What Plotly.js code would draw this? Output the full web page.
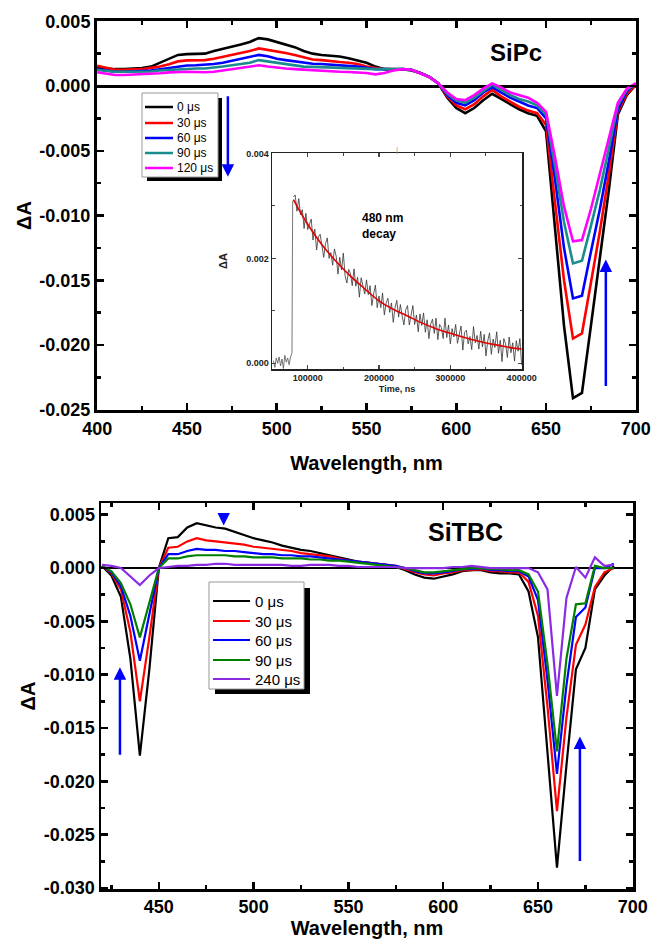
<!DOCTYPE html>
<html><head><meta charset="utf-8">
<script src="https://cdn.plot.ly/plotly-3.0.1.min.js"></script>
<style>html,body{margin:0;padding:0;background:#fff}#chart{width:652px;height:939px}</style>
</head><body><div id="chart"></div>
<script>
// ---------- Top panel: SiPc ----------
const wlTop = [400,405,410,415,420,425,430,435,440,445,450,455,460,465,470,475,480,485,490,495,500,505,510,515,520,525,530,535,540,545,550,555,560,565,570,575,580,585,590,595,600,605,610,615,620,625,630,635,640,645,650,655,660,665,670,675,680,685,690,695,700];
const sipc0 = [0.00145,0.00135,0.0013,0.0013,0.00132,0.00138,0.0015,0.00178,0.0021,0.0024,0.00246,0.00247,0.0025,0.0027,0.00285,0.003,0.0032,0.0034,0.0037,0.0036,0.0034,0.0032,0.003,0.0027,0.0025,0.0024,0.00235,0.00228,0.00215,0.002,0.0018,0.0015,0.0013,0.00128,0.0013,0.0012,0.001,0.0007,0.0002,-0.0009,-0.0017,-0.0021,-0.0017,-0.0011,-0.0006,-0.001,-0.0014,-0.0018,-0.0021,-0.0023,-0.0035,-0.0112,-0.0185,-0.0241,-0.0237,-0.0185,-0.0133,-0.008,-0.0022,-0.0007,0.0001];
const sipc30 = [0.00157,0.0014,0.00125,0.00125,0.00128,0.0013,0.0014,0.0015,0.00168,0.0019,0.00198,0.002,0.002,0.0021,0.00225,0.0024,0.0025,0.0027,0.0029,0.0028,0.0027,0.00255,0.0024,0.0022,0.00205,0.002,0.0019,0.00185,0.0018,0.0017,0.0015,0.0014,0.0013,0.0013,0.0013,0.00125,0.001,0.0007,0.0002,-0.0008,-0.0015,-0.0018,-0.0014,-0.0008,-0.0003,-0.0008,-0.0012,-0.0016,-0.0019,-0.0021,-0.003,-0.0088,-0.015,-0.0195,-0.0191,-0.0152,-0.0112,-0.0068,-0.002,-0.0006,0.0001];
const sipc60 = [0.0013,0.0012,0.0011,0.0011,0.00112,0.00115,0.0012,0.0013,0.0014,0.0015,0.00158,0.0016,0.00163,0.0017,0.0018,0.00195,0.0021,0.0022,0.0024,0.0023,0.0021,0.002,0.0019,0.0018,0.00172,0.0017,0.00165,0.0016,0.0016,0.0015,0.0014,0.0013,0.0013,0.0013,0.0013,0.00125,0.001,0.0007,0.0002,-0.0007,-0.0013,-0.0015,-0.0011,-0.0005,-0.0001,-0.0005,-0.0009,-0.0012,-0.0015,-0.0017,-0.0025,-0.0072,-0.0125,-0.0164,-0.0162,-0.0128,-0.0095,-0.0058,-0.0018,-0.0004,0.0002];
const sipc90 = [0.00124,0.00115,0.0011,0.0011,0.0011,0.0011,0.00112,0.0012,0.00125,0.0013,0.00135,0.00135,0.00135,0.0014,0.0015,0.0016,0.0017,0.0018,0.002,0.0019,0.0018,0.0017,0.0016,0.0015,0.00148,0.00145,0.0014,0.00138,0.00137,0.00135,0.0013,0.0013,0.0013,0.0013,0.00132,0.00125,0.001,0.0007,0.0002,-0.0006,-0.0011,-0.0013,-0.0009,-0.0004,0.0001,-0.0003,-0.0007,-0.001,-0.0012,-0.0015,-0.0022,-0.0062,-0.0105,-0.0137,-0.0135,-0.0108,-0.008,-0.0048,-0.0015,-0.0003,0.0002];
const sipc120 = [0.00106,0.00095,0.00085,0.00085,0.00088,0.0009,0.00092,0.00098,0.00105,0.0011,0.0011,0.00108,0.00106,0.0011,0.0012,0.0013,0.0014,0.0015,0.0016,0.0015,0.0014,0.00135,0.0013,0.00125,0.0012,0.0012,0.00115,0.0011,0.00108,0.00106,0.001,0.0009,0.001,0.0012,0.0013,0.00125,0.001,0.0007,0.0002,-0.0005,-0.001,-0.0011,-0.0007,-0.0002,0.0002,-0.0001,-0.0005,-0.0007,-0.0009,-0.0013,-0.002,-0.0055,-0.0093,-0.012,-0.0119,-0.0095,-0.0068,-0.0042,-0.0013,-0.0002,0.0002];
const topNames = ['0 \u03bcs','30 \u03bcs','60 \u03bcs','90 \u03bcs','120 \u03bcs'];
const topColors = ['#000000','#ff0000','#0000ff','#1a8c8c','#ff00ff'];
const topYTicks = [0.005,0,-0.005,-0.01,-0.015,-0.02,-0.025];
const topYLabels = ['0.005','0.000','-0.005','-0.010','-0.015','-0.020','-0.025'];

// ---------- Inset: 480 nm decay ----------
const tPre = [52000,54000,56000,58000,60000,62000,64000,66000,68000,70000,72000,74000,76000,78000,79000];
const aPre = [0.00005,-0.00008,0.0001,0.0,0.00012,-0.00005,0.00008,-0.0001,0.00015,0.00002,0.0001,-0.00003,0.00012,0.0002,0.0031];
// decay trace sampled every 2500 ns from 80000 ns
const aDecay = [0.00317,0.00321,0.0029,0.00314,0.00283,0.00293,0.00257,0.00286,
0.00255,0.00265,0.00275,0.00235,0.00256,0.00216,0.00241,0.00246,
0.00221,0.00202,0.00228,0.00239,0.002,0.00211,0.00187,0.00218,
0.00204,0.0017,0.00202,0.00178,0.0021,0.00166,0.00153,0.00179,
0.00171,0.00148,0.0018,0.00147,0.00164,0.00126,0.00163,0.00145,
0.00132,0.00159,0.00131,0.00148,0.0011,0.00132,0.00149,0.00106,
0.00128,0.00106,0.00134,0.00092,0.00115,0.00124,0.00097,0.00115,
0.00078,0.00106,0.0012,0.00088,0.00112,0.0009,0.00073,0.00102,
0.0011,0.00073,0.00092,0.0011,0.00074,0.00092,0.0006,0.00094,
0.00072,0.00096,0.00059,0.00083,0.00047,0.00075,0.00084,0.00057,
0.00086,0.00045,0.00074,0.00068,0.00047,0.00086,0.00049,0.00073,
0.00037,0.00066,0.0005,0.00074,0.00038,0.00057,0.00071,0.00025,
0.00059,0.00063,0.00037,0.00051,0.00026,0.0007,0.00039,0.00053,
0.00027,0.00061,0.00031,0.00055,0.00014,0.00043,0.00058,0.00017,
0.00046,0.0003,0.0006,0.00019,0.00044,0.00003,0.00047,0.00037,
0.00011,0.0005,0.0002,0.00039,0.00004,0.00043,0.00023,0.00047,-0.00003];
const tFit = [80000,100000,120000,140000,160000,180000,200000,220000,240000,260000,280000,300000,320000,340000,360000,380000,400000];
const aFit = [0.00312,0.00265,0.00226,0.00194,0.00166,0.00142,0.00119,0.00103,0.0009,0.00077,0.00066,0.00057,0.00049,0.00042,0.00036,0.00031,0.00027];

// ---------- Bottom panel: SiTBC ----------
const wlBot = [420,425,430,435,440,445,450,455,460,465,470,475,480,485,490,495,500,505,510,515,520,525,530,535,540,545,550,555,560,565,570,575,580,585,590,595,600,605,610,615,620,625,630,635,640,645,650,655,660,665,670,675,680,685,690];
const sitbc0 = [0.0002,-0.0007,-0.0027,-0.0085,-0.0176,-0.0095,0.0,0.0028,0.0029,0.0038,0.0042,0.004,0.0038,0.0037,0.0034,0.0031,0.0028,0.0026,0.0024,0.0021,0.0019,0.0017,0.0016,0.0014,0.0012,0.001,0.0008,0.0006,0.0005,0.0004,0.0003,0.0001,-0.0002,-0.0006,-0.0009,-0.001,-0.0008,-0.0006,-0.0003,-0.0002,-0.0002,-0.0004,-0.0005,-0.0005,-0.0006,-0.0022,-0.0065,-0.0173,-0.0281,-0.0185,-0.0095,-0.0075,-0.002,-0.0007,0.0002];
const sitbc30 = [0.0002,-0.0005,-0.002,-0.006,-0.0125,-0.0065,0.0,0.0019,0.002,0.0025,0.0028,0.0026,0.0025,0.0024,0.0023,0.0022,0.002,0.0019,0.0018,0.0017,0.0016,0.0014,0.0013,0.0012,0.0011,0.0009,0.0007,0.0006,0.0005,0.0004,0.0003,0.0002,-0.0001,-0.0004,-0.0006,-0.0007,-0.0005,-0.0004,-0.0002,-0.0002,-0.0001,-0.0003,-0.0003,-0.0004,-0.0004,-0.0013,-0.0045,-0.013,-0.0228,-0.014,-0.0072,-0.0053,-0.0018,-0.0004,0.0];
const sitbc60 = [0.0002,-0.0004,-0.0017,-0.0045,-0.0087,-0.0045,0.0,0.0013,0.0013,0.0016,0.0018,0.0017,0.0017,0.0016,0.0016,0.0015,0.0014,0.0013,0.0013,0.0012,0.0012,0.0011,0.0011,0.001,0.0009,0.0008,0.0007,0.0006,0.0005,0.0004,0.0003,0.0002,0.0,-0.0003,-0.0005,-0.0005,-0.0004,-0.0003,-0.0001,-0.0001,0.0,-0.0002,-0.0002,-0.0003,-0.0003,-0.0008,-0.003,-0.0105,-0.0193,-0.011,-0.0046,-0.0037,0.0,0.0,0.0004];
const sitbc90 = [0.0002,-0.0003,-0.0014,-0.0034,-0.0065,-0.0032,0.0,0.0009,0.0009,0.0011,0.0012,0.0012,0.0012,0.0012,0.0011,0.0011,0.001,0.001,0.001,0.0009,0.0009,0.0009,0.0008,0.0008,0.0007,0.0007,0.0006,0.0005,0.0004,0.0003,0.0002,0.0001,0.0,-0.0002,-0.0004,-0.0004,-0.0003,-0.0002,-0.0001,0.0,0.0,-0.0001,-0.0001,-0.0002,-0.0002,-0.0006,-0.0022,-0.009,-0.0172,-0.0085,-0.0034,-0.0033,0.0002,0.0,0.0];
const sitbc240 = [0.0003,0.0002,0.0,-0.0008,-0.0016,-0.0007,0.0,0.0001,0.0002,0.0002,0.0003,0.0003,0.0004,0.0004,0.0003,0.0003,0.0003,0.0003,0.0003,0.0003,0.0002,0.0002,0.0003,0.0003,0.0003,0.0002,0.0002,0.0001,0.0001,0.0001,0.0001,0.0001,0.0,0.0,0.0,0.0,0.0,0.0001,0.0001,0.0002,0.0001,0.0,0.0,0.0,0.0,0.0,-0.0004,-0.002,-0.012,-0.0028,0.0001,-0.0009,0.001,0.0002,0.0003];
const botNames = ['0 \u03bcs','30 \u03bcs','60 \u03bcs','90 \u03bcs','240 \u03bcs'];
const botColors = ['#000000','#ff0000','#0000ff','#008000','#8a2be2'];
const botYTicks = [0.005,0,-0.005,-0.01,-0.015,-0.02,-0.025,-0.03];
const botYLabels = ['0.005','0.000','-0.005','-0.010','-0.015','-0.020','-0.025','-0.030'];

// ---------- layout helpers ----------
const W = 652, H = 939;
const px = x => x / W;
const py = y => 1 - y / H;
const FF = 'Arial, "Liberation Sans", sans-serif';
const tickFont = {family: FF, size: 18, color: '#000', weight: 'bold'};

const traces = [];
[sipc0, sipc30, sipc60, sipc90, sipc120].forEach((s, i) => {
  traces.push({x: wlTop, y: s, type: 'scatter', mode: 'lines', name: topNames[i],
    line: {color: topColors[i], width: 2.6}, xaxis: 'x', yaxis: 'y', showlegend: false});
});
traces.push({x: tPre, y: aPre, type: 'scatter', mode: 'lines', name: 'pre-trigger',
  line: {color: '#555', width: 0.8}, xaxis: 'x2', yaxis: 'y2', showlegend: false});
traces.push({x0: 80000, dx: 2500, y: aDecay, type: 'scatter', mode: 'lines', name: '480 nm decay',
  line: {color: '#333', width: 0.8}, xaxis: 'x2', yaxis: 'y2', showlegend: false});
traces.push({x: tFit, y: aFit, type: 'scatter', mode: 'lines', name: 'fit',
  line: {color: '#e00000', width: 1.6, shape: 'spline'}, xaxis: 'x2', yaxis: 'y2', showlegend: false});
[sitbc0, sitbc30, sitbc60, sitbc90, sitbc240].forEach((s, i) => {
  traces.push({x: wlBot, y: s, type: 'scatter', mode: 'lines', name: botNames[i],
    line: {color: botColors[i], width: 2.2}, xaxis: 'x3', yaxis: 'y3', showlegend: false});
});

const mainAxis = {
  showline: true, linecolor: '#000', linewidth: 3, mirror: 'allticks',
  ticks: 'inside', ticklen: 7, tickwidth: 2.5, tickcolor: '#000',
  showgrid: false, tickfont: tickFont, automargin: false
};

const shapes = [];
const annotations = [];

// top legend
shapes.push({type: 'rect', xref: 'paper', yref: 'paper', x0: px(147), x1: px(222), y0: py(181), y1: py(98),
  fillcolor: '#000', line: {width: 0}, layer: 'above'});
shapes.push({type: 'rect', xref: 'paper', yref: 'paper', x0: px(142), x1: px(218), y0: py(177), y1: py(93),
  fillcolor: '#fff', line: {color: '#999', width: 1}, layer: 'above'});
const topRows = [107, 123, 138, 153, 168];
topNames.forEach((n, i) => {
  shapes.push({type: 'line', xref: 'paper', yref: 'paper', x0: px(145), x1: px(173), y0: py(topRows[i]), y1: py(topRows[i]),
    line: {color: topColors[i], width: 2.5}, layer: 'above'});
  annotations.push({xref: 'paper', yref: 'paper', x: px(175), y: py(topRows[i]), text: n, showarrow: false,
    xanchor: 'left', yanchor: 'middle', font: {family: FF, size: 12, color: '#000'}});
});

// bottom legend
shapes.push({type: 'rect', xref: 'paper', yref: 'paper', x0: px(215), x1: px(310), y0: py(694), y1: py(588),
  fillcolor: '#000', line: {width: 0}, layer: 'above'});
shapes.push({type: 'rect', xref: 'paper', yref: 'paper', x0: px(209), x1: px(304), y0: py(689), y1: py(582),
  fillcolor: '#fff', line: {color: '#999', width: 1}, layer: 'above'});
const botRows = [601, 621, 640, 660, 679];
botNames.forEach((n, i) => {
  shapes.push({type: 'line', xref: 'paper', yref: 'paper', x0: px(213), x1: px(250), y0: py(botRows[i]), y1: py(botRows[i]),
    line: {color: botColors[i], width: 2.2}, layer: 'above'});
  annotations.push({xref: 'paper', yref: 'paper', x: px(253), y: py(botRows[i]), text: n, showarrow: false,
    xanchor: 'left', yanchor: 'middle', font: {family: FF, size: 15, color: '#000'}});
});

// panel labels
annotations.push({xref: 'x', yref: 'y', x: 633, y: 0.0026, text: 'SiPc', showarrow: false,
  font: {family: FF, size: 24, color: '#000', weight: 'bold'}});
annotations.push({xref: 'x3', yref: 'y3', x: 612, y: 0.0034, text: 'SiTBC', showarrow: false,
  font: {family: FF, size: 25, color: '#000', weight: 'bold'}});
annotations.push({xref: 'paper', yref: 'paper', x: px(360), y: py(226), text: '480 nm<br>decay', showarrow: false,
  xanchor: 'left', yanchor: 'middle', align: 'left', font: {family: FF, size: 12, color: '#000', weight: 'bold'}});
annotations.push({xref: 'paper', yref: 'paper', x: px(397), y: py(143), text: '|', showarrow: false,
  font: {family: FF, size: 8, color: '#999'}});

// blue arrows
const arrow = (xref, yref, x, y, ay) => ({xref, yref, x, y, ax: 0, ay, axref: 'pixel', ayref: 'pixel', text: '',
  showarrow: true, arrowhead: 2, arrowsize: 1, arrowwidth: 2.5, arrowcolor: '#0000ff'});
annotations.push(arrow('x', 'y', 472.8, -0.007, -82));
annotations.push(arrow('x', 'y', 683.3, -0.0134, 128));
annotations.push(arrow('x3', 'y3', 484.2, 0.0040, -13));
annotations.push(arrow('x3', 'y3', 429.5, -0.0093, 89));
annotations.push(arrow('x3', 'y3', 672.1, -0.0158, 126));

const layout = {
  width: W, height: H, margin: {l: 0, r: 0, t: 0, b: 0},
  paper_bgcolor: '#fff', plot_bgcolor: '#fff', showlegend: false,
  font: {family: FF, color: '#000'},
  xaxis: Object.assign({}, mainAxis, {
    domain: [px(97), px(636)], anchor: 'y', range: [399.9, 700.1], dtick: 50, tick0: 400,
    minor: {ticks: 'inside', ticklen: 4, tickwidth: 2.5, tickcolor: '#000', dtick: 25, showgrid: false},
    title: {text: 'Wavelength, nm', font: {family: FF, size: 20, color: '#000', weight: 'bold'}, standoff: 19},
    zeroline: false
  }),
  yaxis: Object.assign({}, mainAxis, {
    domain: [py(410), py(21)], anchor: 'x', range: [-0.02502, 0.00502],
    tickmode: 'array', tickvals: topYTicks, ticktext: topYLabels,
    minor: {ticks: 'inside', ticklen: 4, tickwidth: 2.5, tickcolor: '#000', dtick: 0.0025, tick0: 0, showgrid: false},
    zeroline: true, zerolinecolor: '#000', zerolinewidth: 3,
    title: {text: '\u0394A', font: {family: FF, size: 20, color: '#000', weight: 'bold'}, standoff: 3}
  }),
  xaxis2: {
    domain: [px(272), px(522)], anchor: 'y2', range: [50000, 400500], dtick: 100000, tick0: 0, tickformat: 'd',
    showline: true, linecolor: '#222', linewidth: 1.5, mirror: 'allticks', ticks: 'inside', ticklen: 4, tickwidth: 1.2,
    minor: {ticks: 'inside', ticklen: 2.5, tickwidth: 1, dtick: 50000, tick0: 0, showgrid: false},
    showgrid: false, zeroline: false, automargin: false,
    tickfont: {family: FF, size: 9, color: '#222', weight: 'bold'},
    title: {text: 'Time, ns', font: {family: FF, size: 9, color: '#222', weight: 'bold'}, standoff: 3}
  },
  yaxis2: {
    domain: [py(369), py(153)], anchor: 'x2', range: [-0.00011, 0.00401], dtick: 0.002, tick0: 0, tickformat: '.3f',
    showline: true, linecolor: '#222', linewidth: 1.5, mirror: 'allticks', ticks: 'inside', ticklen: 4, tickwidth: 1.2,
    minor: {ticks: 'inside', ticklen: 2.5, tickwidth: 1, dtick: 0.001, tick0: 0, showgrid: false},
    showgrid: false, zeroline: false, automargin: false,
    tickfont: {family: FF, size: 9, color: '#222', weight: 'bold'},
    title: {text: '\u0394A', font: {family: FF, size: 11, color: '#222', weight: 'bold'}, standoff: 16}
  },
  xaxis3: Object.assign({}, mainAxis, {
    domain: [px(101), px(633)], anchor: 'y3', range: [419.5, 700.1], dtick: 50, tick0: 400,
    linewidth: 2.5,
    minor: {ticks: 'inside', ticklen: 4, tickwidth: 2.5, tickcolor: '#000', dtick: 25, tick0: 400, showgrid: false},
    title: {text: 'Wavelength, nm', font: {family: FF, size: 20, color: '#000', weight: 'bold'}, standoff: 3},
    zeroline: false
  }),
  yaxis3: Object.assign({}, mainAxis, {
    domain: [py(889), py(503)], anchor: 'x3', range: [-0.0301, 0.0061],
    linewidth: 2.5,
    tickmode: 'array', tickvals: botYTicks, ticktext: botYLabels,
    minor: {ticks: 'inside', ticklen: 4, tickwidth: 2.5, tickcolor: '#000', dtick: 0.0025, tick0: 0, showgrid: false},
    zeroline: true, zerolinecolor: '#000', zerolinewidth: 2,
    title: {text: '\u0394A', font: {family: FF, size: 20, color: '#000', weight: 'bold'}, standoff: 3}
  }),
  shapes, annotations
};

Plotly.newPlot('chart', traces, layout, {displayModeBar: false, staticPlot: true});
</script>
</body></html>
